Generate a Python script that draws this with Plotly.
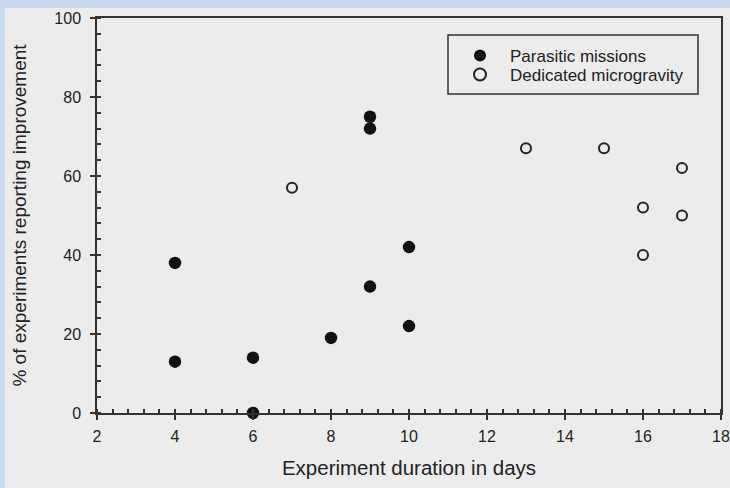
import plotly.graph_objects as go

# Data
parasitic_days = [4, 4, 6, 6, 8, 9, 9, 9, 10, 10]
parasitic_pct = [38, 13, 14, 0, 19, 75, 72, 32, 42, 22]
dedicated_days = [7, 13, 15, 16, 16, 17, 17]
dedicated_pct = [57, 67, 67, 52, 40, 62, 50]
x_ticks = [2, 4, 6, 8, 10, 12, 14, 16, 18]
y_ticks = [0, 20, 40, 60, 80, 100]

W, H = 730, 488
L, R, T, B = 97, 9, 18, 75
pw, ph = W - L - R, H - T - B
FONT = "Liberation Sans, Arial"
INK = "#222222"
BLUE = "#c8dbf3"

def px2paper_x(px):
    return (px - L) / pw

def px2paper_y(py):
    return (H - B - py) / ph

fig = go.Figure()
fig.add_trace(go.Scatter(
    x=parasitic_days, y=parasitic_pct, mode="markers", name="Parasitic missions",
    marker=dict(symbol="circle", size=12.5, color="#111111", line=dict(width=0)),
    cliponaxis=False, legend="legend",
))
fig.add_trace(go.Scatter(
    x=dedicated_days, y=dedicated_pct, mode="markers", name="Dedicated microgravity",
    marker=dict(symbol="circle-open", size=10, color="#222222", line=dict(width=2)),
    cliponaxis=False, legend="legend2",
))

axis_common = dict(
    showline=True, linecolor="#333333", linewidth=1.5, mirror=True, automargin=False,
    showgrid=False, zeroline=False, ticks="outside", ticklen=5, tickwidth=1.5,
    tickcolor="#333333", tickfont=dict(family=FONT, size=16, color=INK),
)

fig.update_xaxes(
    range=[2, 18], tickvals=x_ticks, ticktext=[str(v) for v in x_ticks],
    ticklabelstandoff=3,
    title=dict(text="Experiment duration in days", font=dict(family=FONT, size=20.5, color=INK), standoff=17),
    minor=dict(ticks="inside", dtick=0.4, ticklen=4, tickwidth=1.5, tickcolor="#333333", showgrid=False),
    **axis_common,
)
fig.update_yaxes(
    range=[0, 100], tickvals=y_ticks, ticktext=[str(v) for v in y_ticks],
    ticklabelstandoff=6,
    title=dict(text="% of experiments reporting improvement", font=dict(family=FONT, size=19, color=INK), standoff=23),
    minor=dict(ticks="inside", dtick=4, ticklen=4, tickwidth=1.5, tickcolor="#333333", showgrid=False),
    **axis_common,
)

# blue border strips (top and left) over gray paper
fig.add_shape(type="rect", xref="paper", yref="paper",
              x0=px2paper_x(0), x1=px2paper_x(W), y0=px2paper_y(8), y1=px2paper_y(0),
              fillcolor=BLUE, line=dict(width=0), layer="below")
fig.add_shape(type="rect", xref="paper", yref="paper",
              x0=px2paper_x(0), x1=px2paper_x(5), y0=px2paper_y(H), y1=px2paper_y(0),
              fillcolor=BLUE, line=dict(width=0), layer="below")
# legend frame
fig.add_shape(type="rect", xref="paper", yref="paper",
              x0=px2paper_x(448), x1=px2paper_x(698), y0=px2paper_y(94), y1=px2paper_y(35),
              fillcolor="rgba(0,0,0,0)", line=dict(color="#333333", width=1.5))

legend_common = dict(
    xanchor="left", yanchor="top", bgcolor="rgba(0,0,0,0)", borderwidth=0,
    font=dict(family=FONT, size=17, color=INK), itemsizing="constant", itemwidth=50,
)

fig.update_layout(
    width=W, height=H,
    margin=dict(l=L, r=R, t=T, b=B),
    paper_bgcolor="#ececec",
    plot_bgcolor="rgba(0,0,0,0)",
    showlegend=True,
    legend=dict(x=px2paper_x(450), y=px2paper_y(38), **legend_common),
    legend2=dict(x=px2paper_x(450), y=px2paper_y(57), **legend_common),
)

fig.write_html("out.html", config={"displayModeBar": False},
               post_script=("document.body.style.margin='0';document.body.style.overflow='hidden';"
                            "document.documentElement.style.overflow='hidden';"
                            "document.body.style.background='#ececec';"))
